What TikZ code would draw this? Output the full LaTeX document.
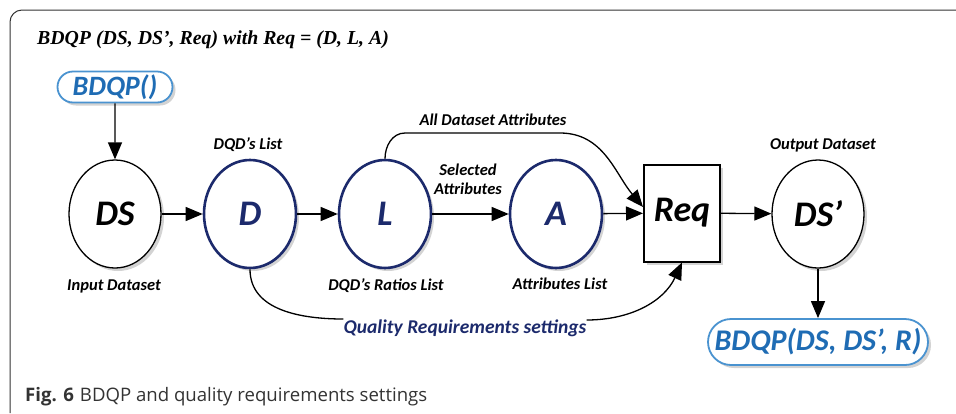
\documentclass[tikz,border=0pt]{standalone}
\usepackage{fontspec}
\setmainfont{Carlito}
\newfontfamily\titlefont{Liberation Serif}
\newfontfamily\capfont{Open Sans}
\usetikzlibrary{arrows.meta,shapes.geometric,shapes.misc,shadows,calc}
\definecolor{navy}{HTML}{1C2A6C}
\definecolor{bblue}{HTML}{1F6CB4}
\definecolor{bborder}{HTML}{4A93D0}
\definecolor{framegray}{HTML}{333333}
\begin{document}
\begin{tikzpicture}[x=1pt,y=-1pt,
  shad/.style={drop shadow={shadow xshift=3pt,shadow yshift=-3pt,opacity=0.35}},
  lbl/.style={font=\bfseries\itshape\fontsize{16.5}{19}\selectfont, inner sep=0pt},
  ell/.style={ellipse, draw, line width=1.3pt, minimum width=92pt, minimum height=108pt,
    inner sep=0pt, fill=white, shad, font=\bfseries\itshape\fontsize{36}{40}\selectfont},
  nell/.style={ell, draw=navy, line width=2.6pt, text=navy},
  pill/.style={rounded rectangle, draw=bborder, line width=1.8pt, fill=white, text=bblue,
    shad, inner sep=0pt, font=\bfseries\itshape},
  reqbox/.style={rectangle, draw, line width=2pt, minimum width=76pt, minimum height=97pt,
    fill=white, shad, font=\bfseries\itshape\fontsize{36}{40}\selectfont},
  arr/.style={-{Triangle[length=17pt,width=14pt]}, line width=1.3pt},
  con/.style={line width=1.3pt}
]
\useasboundingbox (0,0) rectangle (956,413);
% frame
\draw[framegray, line width=1pt, rounded corners=12pt] (956,10) -- (10,10) -- (10,413);
% title
\node[anchor=west, inner sep=0pt, font=\titlefont\bfseries\itshape\fontsize{19.8}{24}\selectfont]
  (title) at (37,40) {BDQP (DS, DS’, Req) with Req = (D, L, A)};
% nodes
\node[pill, minimum width=115pt, minimum height=31pt, font=\bfseries\itshape\fontsize{28}{30}\selectfont] (bdqp) at (115,87) {BDQP()};
\node[ell] (ds) at (115,214) {DS};
\node[nell] (d) at (250,214) {D};
\node[nell] (l) at (385,214) {L};
\node[nell] (a) at (556,214) {A};
\node[reqbox] (req) at (682,213) {Req};
\node[ell] (ds2) at (818,214) {DS’};
\node[pill, minimum width=220pt, minimum height=46pt, font=\bfseries\itshape\fontsize{30}{32}\selectfont] (out) at (818,342) {BDQP(DS, DS’, R)};
% labels
\node[lbl] (ldqd) at (248,145) {DQD’s List};
\node[lbl] (lin) at (114,286) {Input Dataset};
\node[lbl] (lrat) at (386,286) {DQD’s Ratios List};
\node[lbl] (lall) at (493,120) {All Dataset Attributes};
\node[lbl, align=center] (lsel) at (468,179) {Selected\\Attributes};
\node[lbl] (latt) at (560,284) {Attributes List};
\node[lbl] (lout) at (823,145) {Output Dataset};
\node[lbl, text=navy, font=\bfseries\itshape\fontsize{19.5}{21}\selectfont] (lq) at (465,328) {Quality Requirements settings};
% caption
\node[anchor=west, inner sep=0pt, text=framegray, font=\capfont\fontsize{18.6}{22}\selectfont] (cap) at (25,397)
  {\textbf{Fig. 6}\hspace{6pt}BDQP and quality requirements settings};
% connectors
\draw[arr] (bdqp) -- (ds);
\draw[arr] (ds) -- (d);
\draw[arr] (d) -- (l);
\draw[arr] (l) -- (a);
\draw[arr] (a) -- (req);
\draw[arr] (req) -- (ds2);
\draw[arr] (ds2) -- (out);
\coordinate (allc1) at (405,133);
\coordinate (allc2) at (560,133);
\coordinate (reqin) at ($(req.west)+(0,-6)$);
\draw[arr] (l.north) to[out=90,in=180] (allc1) -- (allc2) to[out=0,in=130] (reqin);
\coordinate (qs) at ($(lq.west)+(0,-9)$);
\coordinate (qe) at ($(lq.east)+(0,-8)$);
\draw[con] (d.south) to[out=-90,in=180] (qs);
\draw[arr] (qe) to[out=0,in=-115] (req.south);
\end{tikzpicture}
\end{document}
